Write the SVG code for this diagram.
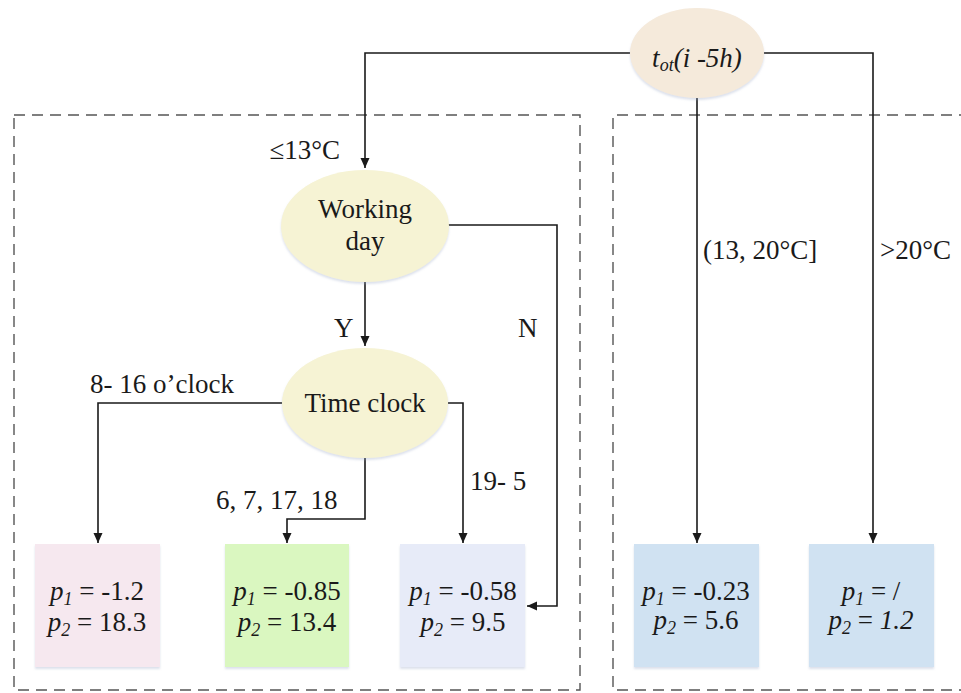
<svg xmlns="http://www.w3.org/2000/svg" width="961" height="693" viewBox="0 0 961 693">
  <style>
    text { font-family: "Liberation Serif", "Times New Roman", serif; font-size: 27px; fill: #1a1a1a; }
    .c { text-anchor: middle; }
    .i { font-style: italic; }
    .sub { font-size: 18px; }
    .conn { fill: none; stroke: #1a1a1a; stroke-width: 1.6; }
    .frame { fill: none; stroke: #555; stroke-width: 1.4; stroke-dasharray: 11 7; }
    .leaf { stroke: none; filter: url(#soft); }
    .cond { stroke: none; filter: url(#soft); }
  </style>
  <defs>
    <marker id="arrow" markerUnits="userSpaceOnUse" markerWidth="10" markerHeight="10" refX="10" refY="5" orient="auto">
      <path d="M0,0.5 L10,5 L0,9.5 z" fill="#1a1a1a"/>
    </marker>
    <filter id="soft" x="-10%" y="-10%" width="120%" height="125%">
      <feDropShadow dx="0" dy="2" stdDeviation="1.2" flood-color="#9aa8c8" flood-opacity="0.35"/>
    </filter>
  </defs>

  <rect width="961" height="693" fill="#ffffff"/>

  <!-- dashed group frames -->
  <g id="frames">
    <path class="frame" d="M14,115 H580 V690 H14 Z"/>
    <path class="frame" d="M970,115 H613 V690 H970"/>
  </g>

  <!-- connectors -->
  <g id="connectors">
    <path class="conn" d="M630,53 H365 V168" marker-end="url(#arrow)"/>
    <path class="conn" d="M763,53 H873 V543" marker-end="url(#arrow)"/>
    <path class="conn" d="M697,98 V543" marker-end="url(#arrow)"/>
    <path class="conn" d="M365,282 V346" marker-end="url(#arrow)"/>
    <path class="conn" d="M448,225 H557 V606 H527" marker-end="url(#arrow)"/>
    <path class="conn" d="M283,403 H98 V543" marker-end="url(#arrow)"/>
    <path class="conn" d="M448,403 H463 V543" marker-end="url(#arrow)"/>
    <path class="conn" d="M365,458 V519 H287 V543" marker-end="url(#arrow)"/>

    <text x="340" y="159" text-anchor="end">≤13°C</text>
    <text x="703" y="259">(13, 20°C]</text>
    <text x="880" y="259">&gt;20°C</text>
    <text x="334" y="337">Y</text>
    <text x="518" y="337">N</text>
    <text x="90" y="393">8- 16 o’clock</text>
    <text x="216" y="509">6, 7, 17, 18</text>
    <text x="470" y="490">19- 5</text>
  </g>

  <!-- decision nodes -->
  <g id="node-tot">
    <ellipse class="cond" cx="697" cy="53" rx="67" ry="45" fill="#f5eadb"/>
    <text class="c i" x="697" y="67">t<tspan class="sub" dy="4">ot</tspan><tspan dy="-4">(i -5h)</tspan></text>
  </g>
  <g id="node-working-day">
    <ellipse class="cond" cx="365" cy="226" rx="84" ry="56" fill="#f6f3d4"/>
    <text class="c" x="365" y="218">Working</text>
    <text class="c" x="365" y="250">day</text>
  </g>
  <g id="node-time-clock">
    <ellipse class="cond" cx="365" cy="403" rx="83" ry="55" fill="#f6f3d4"/>
    <text class="c" x="365" y="412">Time clock</text>
  </g>

  <!-- leaf nodes -->
  <g id="leaf-day">
    <rect class="leaf" x="35" y="544" width="125" height="123" fill="#f6e8ef"/>
    <text class="c" x="97" y="600"><tspan class="i">p</tspan><tspan class="i sub" dy="5">1</tspan><tspan dy="-5"> = -1.2</tspan></text>
    <text class="c" x="97" y="631"><tspan class="i">p</tspan><tspan class="i sub" dy="5">2</tspan><tspan dy="-5"> = 18.3</tspan></text>
  </g>
  <g id="leaf-shoulder">
    <rect class="leaf" x="225" y="544" width="124" height="123" fill="#daf7c0"/>
    <text class="c" x="287" y="600"><tspan class="i">p</tspan><tspan class="i sub" dy="5">1</tspan><tspan dy="-5"> = -0.85</tspan></text>
    <text class="c" x="287" y="631"><tspan class="i">p</tspan><tspan class="i sub" dy="5">2</tspan><tspan dy="-5"> = 13.4</tspan></text>
  </g>
  <g id="leaf-night">
    <rect class="leaf" x="400" y="544" width="125" height="123" fill="#e7ebf8"/>
    <text class="c" x="463" y="600"><tspan class="i">p</tspan><tspan class="i sub" dy="5">1</tspan><tspan dy="-5"> = -0.58</tspan></text>
    <text class="c" x="463" y="631"><tspan class="i">p</tspan><tspan class="i sub" dy="5">2</tspan><tspan dy="-5"> = 9.5</tspan></text>
  </g>
  <g id="leaf-mild">
    <rect class="leaf" x="634" y="544" width="125" height="123" fill="#d0e2f2"/>
    <text class="c" x="696" y="600"><tspan class="i">p</tspan><tspan class="i sub" dy="5">1</tspan><tspan dy="-5"> = -0.23</tspan></text>
    <text class="c" x="696" y="629"><tspan class="i">p</tspan><tspan class="i sub" dy="5">2</tspan><tspan dy="-5"> = 5.6</tspan></text>
  </g>
  <g id="leaf-warm">
    <rect class="leaf" x="809" y="544" width="125" height="123" fill="#d0e2f2"/>
    <text class="c" x="871" y="600"><tspan class="i">p</tspan><tspan class="i sub" dy="5">1</tspan><tspan dy="-5"> = /</tspan></text>
    <text class="c" x="871" y="629"><tspan class="i">p</tspan><tspan class="i sub" dy="5">2</tspan><tspan dy="-5"> = </tspan><tspan class="i">1.2</tspan></text>
  </g>
</svg>
